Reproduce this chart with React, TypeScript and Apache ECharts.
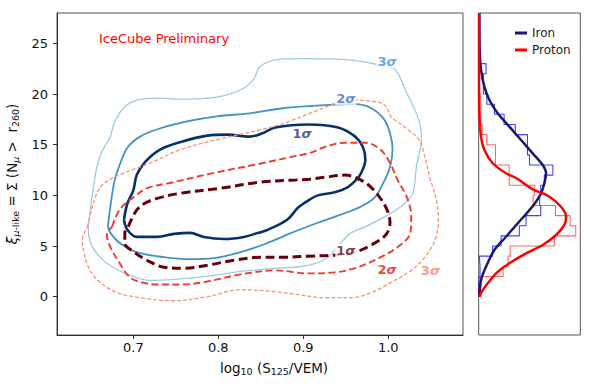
import React, { useEffect, useRef } from 'react';
import * as echarts from 'echarts';

// ---------- data ----------
const xTicks = [0.7, 0.8, 0.9, 1.0];
const yTicks = [0, 5, 10, 15, 20, 25];

// Iron (blue) contours
const ironSigma3 = [
  [0.647, 6.9], [0.651, 9.5], [0.657, 12.8], [0.664, 14.5], [0.673, 15.8], [0.677, 17.0], [0.688, 18.6],
  [0.704, 19.4], [0.728, 19.6], [0.758, 19.5], [0.798, 19.7], [0.826, 20.4], [0.841, 21.4], [0.849, 22.7],
  [0.869, 23.4], [0.896, 23.5], [0.951, 23.4], [0.988, 22.9], [1.008, 22.4], [1.020, 20.4], [1.036, 17.4],
  [1.039, 15.5], [1.033, 12.8], [1.030, 10.5], [1.026, 9.8], [1.015, 8.9], [0.996, 7.9], [0.973, 6.9],
  [0.956, 6.3], [0.944, 5.3], [0.929, 3.9], [0.906, 3.1], [0.867, 2.8], [0.826, 2.5], [0.787, 2.0],
  [0.748, 1.7], [0.720, 1.6], [0.696, 2.1], [0.669, 3.3], [0.654, 4.6], [0.648, 5.8],
];
const ironSigma2 = [
  [0.670, 6.9], [0.673, 8.9], [0.678, 11.5], [0.683, 12.8], [0.693, 14.7], [0.708, 15.8], [0.731, 16.6],
  [0.763, 17.3], [0.798, 17.8], [0.837, 18.1], [0.876, 18.6], [0.926, 18.9], [0.961, 19.0], [0.980, 18.6],
  [0.996, 17.4], [1.003, 15.8], [1.005, 14.5], [1.002, 12.8], [0.994, 11.2], [0.984, 9.8], [0.968, 8.9],
  [0.944, 8.1], [0.917, 7.3], [0.886, 6.3], [0.858, 5.3], [0.826, 4.4], [0.795, 3.8], [0.767, 3.7],
  [0.736, 3.9], [0.704, 4.4], [0.684, 5.3], [0.673, 6.3],
];
const ironSigma1 = [
  [0.689, 7.6], [0.693, 9.2], [0.700, 10.5], [0.704, 12.0], [0.714, 13.3], [0.731, 14.5], [0.757, 15.3],
  [0.787, 15.9], [0.810, 16.0], [0.837, 15.8], [0.851, 16.1], [0.867, 16.7], [0.906, 17.0], [0.941, 16.7],
  [0.961, 15.8], [0.970, 14.8], [0.973, 13.5], [0.968, 12.2], [0.962, 11.5], [0.952, 10.8], [0.937, 10.3],
  [0.917, 10.0], [0.906, 9.5], [0.894, 8.8], [0.881, 7.6], [0.858, 6.6], [0.847, 6.3], [0.830, 5.9],
  [0.807, 5.7], [0.783, 5.9], [0.767, 6.3], [0.748, 6.2], [0.728, 5.9], [0.704, 5.9], [0.693, 6.6],
];

// Proton (red) contours
const protonSigma3 = [
  [0.646, 6.9], [0.653, 9.2], [0.661, 10.8], [0.675, 11.7], [0.689, 12.2], [0.720, 13.2], [0.755, 14.5],
  [0.798, 15.5], [0.851, 16.5], [0.873, 17.0], [0.886, 17.4], [0.908, 18.1], [0.932, 18.9], [0.952, 19.4],
  [0.980, 19.3], [0.996, 18.9], [1.004, 17.7], [1.020, 16.7], [1.036, 15.5], [1.043, 13.8], [1.049, 11.7],
  [1.056, 9.8], [1.059, 7.6], [1.055, 5.6], [1.043, 3.9], [1.027, 2.6], [1.003, 1.4], [0.980, 0.4],
  [0.956, -0.1], [0.926, -0.1], [0.894, 0.2], [0.867, 0.5], [0.826, 0.7], [0.787, 0.0], [0.748, -0.4],
  [0.708, -0.1], [0.681, 0.4], [0.661, 1.4], [0.649, 2.6], [0.642, 4.3], [0.640, 5.6],
];
const protonSigma2 = [
  [0.675, 6.9], [0.684, 8.6], [0.700, 9.8], [0.716, 10.7], [0.747, 11.3], [0.794, 12.2], [0.853, 13.2],
  [0.886, 13.8], [0.908, 14.2], [0.926, 14.8], [0.949, 15.2], [0.973, 15.2], [0.991, 14.5], [1.002, 13.2],
  [1.011, 11.5], [1.022, 9.8], [1.027, 7.9], [1.026, 6.3], [1.011, 4.9], [0.991, 3.9], [0.964, 2.9],
  [0.937, 2.4], [0.906, 2.3], [0.867, 2.6], [0.826, 2.2], [0.787, 1.5], [0.758, 1.2], [0.728, 1.2],
  [0.708, 1.45], [0.696, 1.9], [0.684, 3.3], [0.673, 4.9], [0.669, 6.1],
];
const protonSigma1 = [
  [0.694, 6.9], [0.702, 8.3], [0.711, 9.1], [0.728, 9.7], [0.755, 10.2], [0.802, 10.7], [0.849, 11.3],
  [0.886, 11.5], [0.908, 11.6], [0.926, 11.8], [0.949, 12.0], [0.968, 11.5], [0.982, 10.6], [0.997, 8.85],
  [1.002, 7.3], [0.997, 6.1], [0.980, 5.1], [0.961, 4.4], [0.937, 4.1], [0.906, 4.0], [0.878, 3.9],
  [0.851, 3.9], [0.818, 3.6], [0.787, 3.1], [0.760, 2.8], [0.736, 2.9], [0.716, 3.6], [0.701, 4.4],
  [0.690, 5.3], [0.690, 6.3],
];

// contour labels
const contourLabelX = [0.9985, 0.950, 0.8985, 0.950, 0.9985, 1.0496];
const contourLabelY = [23.17, 19.57, 16.11, 4.56, 2.73, 2.54];
const contourLabelLevel = ['3', '2', '1', '1', '2', '3'];

// side panel: histograms (bin edges along ξ) and fitted curves
const histBinEdges = [0, 1, 2, 3, 4, 5, 6, 7, 8, 9, 10, 11, 12, 13, 14, 15, 16, 17, 18, 19, 20, 21, 22, 23];
const ironHist = [0, 0.005, 0.013, 0.007, 0.137, 0.22, 0.40, 0.466, 0.61, 0.60, 0.61, 0.646, 0.73, 0.50, 0.48,
  0.48, 0.36, 0.25, 0.155, 0.08, 0.046, 0.046, 0.072];
const protonHist = [0, 0.02, 0.24, 0.29, 0.31, 0.745, 0.955, 0.90, 0.755, 0.535, 0.55, 0.30, 0.30, 0.165, 0.165,
  0.08, 0.035, 0.02, 0.025, 0.015, 0.006, 0, 0];
const ironCurve = [
  [0.007, 0], [0.023, 1.65], [0.072, 2.96], [0.154, 4.61], [0.269, 5.92], [0.384, 7.24], [0.472, 8.23],
  [0.554, 9.22], [0.614, 10.2], [0.650, 11.35], [0.663, 12.18], [0.630, 13.0], [0.531, 14.15], [0.417, 15.47],
  [0.302, 16.78], [0.187, 18.10], [0.105, 19.42], [0.056, 20.73], [0.023, 22.38], [0.010, 24.35], [0.007, 27.97],
];
const protonCurve = [
  [0.007, 0], [0.030, 0.49], [0.089, 1.32], [0.171, 2.31], [0.302, 3.30], [0.466, 4.28], [0.630, 5.10],
  [0.761, 6.09], [0.843, 7.08], [0.860, 7.90], [0.810, 8.88], [0.696, 9.87], [0.515, 10.70], [0.374, 11.69],
  [0.269, 12.18], [0.138, 13.17], [0.056, 14.48], [0.023, 15.79], [0.007, 17.77], [0.003, 21.07], [0.003, 27.97],
];

const FONT = 'DejaVu Sans';

function stepData(edges: number[], counts: number[]) {
  const pts: number[][] = [[0, edges[0]]];
  counts.forEach((c, i) => {
    pts.push([c, edges[i]]);
    pts.push([c, edges[i + 1]]);
  });
  pts.push([0, edges[edges.length - 1]]);
  return pts;
}

function contour(name: string, data: number[][], color: string, width: number, type: any) {
  return {
    type: 'line', name, xAxisIndex: 0, yAxisIndex: 0,
    data: [...data, data[0]], smooth: 0.35, symbol: 'none', silent: true,
    lineStyle: { color, width, type, cap: 'butt' }, z: 3,
  };
}

export default function App() {
  const ref = useRef<HTMLDivElement>(null);
  useEffect(() => {
    if (!ref.current) return;
    const chart = echarts.init(ref.current, undefined, { renderer: 'svg' });
    const labelColors = ['#3a8fe8', '#4169e1', '#27307e', '#6b0d0d', '#ee1111', '#fa8072'];
    const option: any = {
      animation: false,
      textStyle: { fontFamily: FONT },
      grid: [
        { left: 57, top: 13, width: 406, height: 322, show: true, borderColor: '#555', borderWidth: 1, containLabel: false, outerBoundsMode: 'none' },
        { left: 478.7, top: 13, width: 101.6, height: 322, show: true, borderColor: '#555', borderWidth: 1, containLabel: false, outerBoundsMode: 'none' },
      ],
      xAxis: [
        {
          type: 'value', gridIndex: 0, min: 0.6102, max: 1.0879,
          axisLine: { show: true, onZero: false, lineStyle: { color: '#333' } },
          axisTick: { show: true, length: 4, customValues: xTicks, lineStyle: { color: '#333' } },
          axisLabel: { customValues: xTicks, fontSize: 13, color: '#111', margin: 6, formatter: (v: number) => v.toFixed(1) },
          splitLine: { show: false },
          name: 'log{s|10} (S{s|125}/VEM)', nameLocation: 'middle', nameGap: 14,
          nameTextStyle: {
            fontSize: 13.5, color: '#111', lineHeight: 18, padding: [0, 0, 0, 28],
            rich: { s: { fontSize: 9.5, lineHeight: 11, verticalAlign: 'bottom', color: '#111' } },
          },
        },
        { type: 'value', gridIndex: 1, min: 0, max: 1, show: false },
      ],
      yAxis: [
        {
          type: 'value', gridIndex: 0, min: -3.78, max: 28,
          axisLine: { show: true, onZero: false, lineStyle: { color: '#333' } },
          axisTick: { show: true, length: 4, customValues: yTicks, lineStyle: { color: '#333' } },
          axisLabel: { customValues: yTicks, fontSize: 13, color: '#111', margin: 9 },
          splitLine: { show: false },
          name: '{i|ξ}{si|μ}{s|-like} = Σ (N{si|μ} >  r{s|260})', nameLocation: 'middle', nameGap: 24, nameRotate: 90,
          nameTextStyle: {
            fontSize: 13.5, color: '#111', lineHeight: 18,
            rich: {
              i: { fontSize: 14, fontStyle: 'italic', color: '#111', lineHeight: 18 },
              si: { fontSize: 9.5, fontStyle: 'italic', lineHeight: 11, verticalAlign: 'bottom', color: '#111' },
              s: { fontSize: 9.5, lineHeight: 11, verticalAlign: 'bottom', color: '#111' },
            },
          },
        },
        { type: 'value', gridIndex: 1, min: -3.78, max: 28, show: false },
      ],
      legend: {
        data: ['Iron', 'Proton'], orient: 'vertical', left: 510, top: 22, itemGap: 5,
        icon: 'rect', itemWidth: 12, itemHeight: 3, selectedMode: false,
        textStyle: { fontSize: 12, color: '#222', fontFamily: FONT },
      },
      graphic: [
        {
          type: 'text', left: 99, top: 32,
          style: { text: 'IceCube Preliminary', fill: '#ff0000', font: `13px "${FONT}"` },
        },
      ],
      series: [
        contour('Iron 3σ', ironSigma3, '#9ecae1', 1.3, 'solid'),
        contour('Iron 2σ', ironSigma2, '#4292c6', 1.8, 'solid'),
        contour('Iron 1σ', ironSigma1, '#08306b', 2.6, 'solid'),
        contour('Proton 3σ', protonSigma3, '#fc9272', 1.3, [4, 2]),
        contour('Proton 2σ', protonSigma2, '#ef3b2c', 1.9, [7, 3.5]),
        contour('Proton 1σ', protonSigma1, '#67000d', 3, [9, 4.5]),
        {
          type: 'scatter', xAxisIndex: 0, yAxisIndex: 0, symbolSize: 0, silent: true, z: 10,
          data: contourLabelX.map((x, i) => ({
            value: [x, contourLabelY[i]],
            label: {
              show: true, position: 'inside', backgroundColor: '#fff', padding: [0, 1],
              formatter: `{n|${contourLabelLevel[i]}}{g|σ}`,
              rich: {
                n: { color: labelColors[i], fontWeight: 'bold', fontSize: 13, fontFamily: FONT },
                g: { color: labelColors[i], fontWeight: 'bold', fontStyle: 'italic', fontSize: 13, fontFamily: FONT },
              },
            },
          })),
        },
        {
          type: 'line', name: 'Iron hist', xAxisIndex: 1, yAxisIndex: 1, data: stepData(histBinEdges, ironHist),
          symbol: 'none', silent: true, lineStyle: { color: 'rgba(0,0,255,0.75)', width: 1.1 }, z: 2,
        },
        {
          type: 'line', name: 'Proton hist', xAxisIndex: 1, yAxisIndex: 1, data: stepData(histBinEdges, protonHist),
          symbol: 'none', silent: true, lineStyle: { color: 'rgba(255,0,0,0.6)', width: 1.1 }, z: 2,
        },
        {
          type: 'line', name: 'Iron', xAxisIndex: 1, yAxisIndex: 1, data: ironCurve, color: '#191970',
          smooth: 0.3, symbol: 'none', silent: true, lineStyle: { color: '#191970', width: 2.5 }, z: 4,
        },
        {
          type: 'line', name: 'Proton', xAxisIndex: 1, yAxisIndex: 1, data: protonCurve, color: '#ff0000',
          smooth: 0.3, symbol: 'none', silent: true, lineStyle: { color: '#ff0000', width: 2.5 }, z: 4,
        },
      ],
    };
    chart.setOption(option);
    return () => chart.dispose();
  }, []);
  return (
    <div
      ref={ref}
      style={{ position: 'fixed', left: 0, top: 0, width: 593, height: 387, background: '#fff' }}
    />
  );
}
